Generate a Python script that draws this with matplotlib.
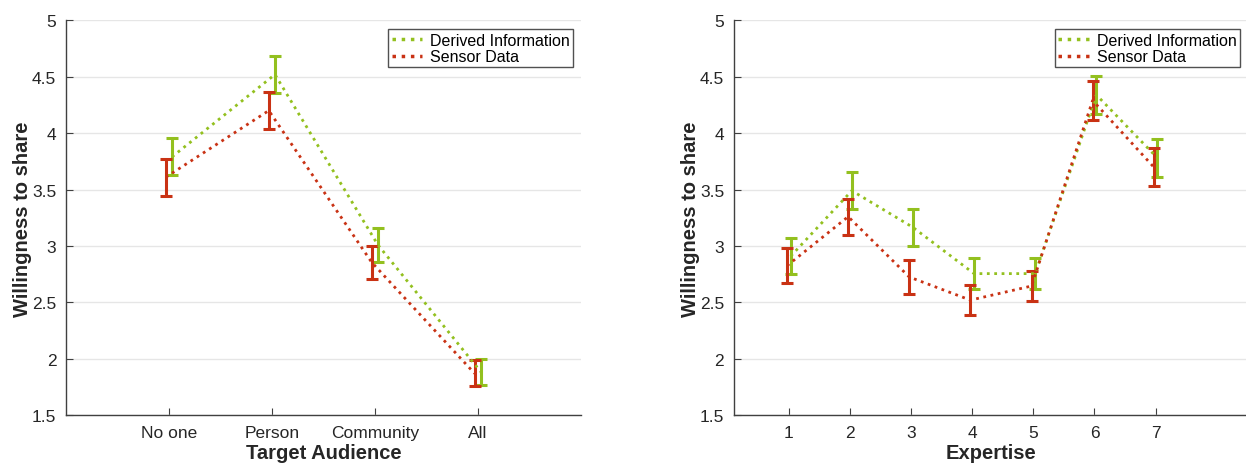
import matplotlib
matplotlib.use("Agg")
import matplotlib.pyplot as plt
from matplotlib.lines import Line2D
import numpy as np

plt.rcParams['font.family'] = ['Liberation Sans', 'DejaVu Sans']

# Target audience panel
audience = ['No one', 'Person', 'Community', 'All']
aud_derived = [3.79, 4.52, 3.01, 1.885]
aud_derived_err = [0.165, 0.165, 0.15, 0.115]
aud_sensor = [3.61, 4.20, 2.855, 1.87]
aud_sensor_err = [0.165, 0.165, 0.145, 0.115]

# Expertise panel
expertise = ['1', '2', '3', '4', '5', '6', '7']
exp_derived = [2.91, 3.49, 3.165, 2.755, 2.755, 4.34, 3.78]
exp_derived_err = [0.16, 0.165, 0.165, 0.135, 0.135, 0.17, 0.165]
exp_sensor = [2.825, 3.26, 2.725, 2.52, 2.645, 4.29, 3.70]
exp_sensor_err = [0.155, 0.16, 0.155, 0.13, 0.135, 0.17, 0.17]

GREEN = '#93c01f'
RED = '#c93214'

fig = plt.figure(figsize=(12.46, 4.64), dpi=100)
ax1 = fig.add_axes([0.053, 0.103, 0.413, 0.851])
ax2 = fig.add_axes([0.589, 0.103, 0.412, 0.851])


def draw(ax, cats, der, der_err, sen, sen_err, xlabel, xlim, off):
    x = np.arange(1, len(cats) + 1)
    ax.errorbar(x + off, der, yerr=der_err, color=GREEN, linestyle=':', linewidth=2,
                elinewidth=2.2, capsize=4, capthick=2.2, zorder=3)
    ax.errorbar(x - off, sen, yerr=sen_err, color=RED, linestyle=':', linewidth=2,
                elinewidth=2.2, capsize=4, capthick=2.2, zorder=3)
    ax.set_xlim(*xlim)
    ax.set_ylim(1.5, 5)
    ax.set_xticks(x)
    ax.set_xticklabels(cats)
    ax.set_yticks(np.arange(1.5, 5.01, 0.5))
    ax.set_yticklabels(['1.5', '2', '2.5', '3', '3.5', '4', '4.5', '5'])
    ax.yaxis.grid(True, color='#e6e6e6', linewidth=1)
    ax.set_axisbelow(True)
    for s in ['top', 'right']:
        ax.spines[s].set_visible(False)
    for s in ['left', 'bottom']:
        ax.spines[s].set_color('#404040')
        ax.spines[s].set_linewidth(1)
    ax.tick_params(direction='in', length=5, color='#404040', labelsize=12.5,
                   labelcolor='#262626', pad=7)
    ax.set_xlabel(xlabel, fontsize=14.5, fontweight='bold', color='#262626', labelpad=2)
    ax.set_ylabel('Willingness to share', fontsize=14.5, fontweight='bold', color='#262626',
                  labelpad=0)
    handles = [Line2D([], [], color=GREEN, linestyle=':', linewidth=2.5),
               Line2D([], [], color=RED, linestyle=':', linewidth=2.5)]
    leg = ax.legend(handles, ['Derived Information', 'Sensor Data'], loc='upper right',
                    bbox_to_anchor=(0.985, 0.977), fontsize=11.5,
                    frameon=True, fancybox=False, edgecolor='#262626', handlelength=1.9,
                    handletextpad=0.5, borderpad=0.2, labelspacing=0.1, borderaxespad=0)
    leg.get_frame().set_linewidth(1)


draw(ax1, audience, aud_derived, aud_derived_err, aud_sensor, aud_sensor_err,
     'Target Audience', (0, 5), 0.03)
draw(ax2, expertise, exp_derived, exp_derived_err, exp_sensor, exp_sensor_err,
     'Expertise', (0.1, 8.5), 0.03)

fig.savefig('out.png', dpi=100)
